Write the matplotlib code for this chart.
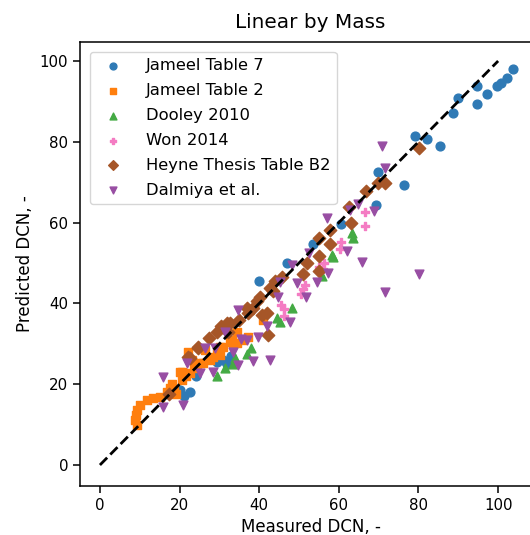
import matplotlib
matplotlib.use("Agg")
import matplotlib.pyplot as plt
import numpy as np

# ---- data (measured, predicted) ----
jameel7_x = [103.7, 102.2, 100.7, 99.8, 97.3, 94.6, 94.6, 89.8, 88.6, 79.2, 82.1, 85.3, 76.4, 69.9, 69.3,
             60.6, 53.4, 46.9, 40.0, 31.0, 33.0, 32.0, 29.5, 21.0, 22.5, 20.0, 24.0]
jameel7_y = [97.9, 95.9, 94.6, 93.8, 91.8, 93.8, 89.3, 90.8, 87.2, 81.4, 80.7, 79.0, 69.3, 72.4, 64.4,
             59.6, 54.8, 50.0, 45.6, 26.0, 27.0, 25.0, 25.5, 17.0, 18.0, 18.5, 22.0]

jameel2_x = [9.2, 8.8, 9.0, 9.2, 10.0, 11.7, 13.4, 15.1, 16.8, 17.6, 18.5, 20.5, 20.5, 21.5, 22.6, 23.5,
             24.3, 25.1, 26.0, 27.6, 28.5, 29.3, 30.2, 31.0, 32.7, 33.5, 34.3, 36.0, 37.3, 41.0, 22.0,
             23.0, 26.5, 19.0, 18.0, 30.2, 33.1, 34.3, 20.1]
jameel2_y = [9.9, 11.1, 12.3, 13.6, 14.9, 16.1, 16.6, 16.9, 18.1, 19.0, 18.5, 21.0, 23.1, 22.0, 22.7, 24.0,
             24.3, 25.2, 25.2, 26.0, 26.8, 27.6, 29.3, 29.3, 30.5, 30.1, 30.1, 31.0, 31.8, 35.9, 28.0,
             26.0, 28.5, 17.5, 20.0, 27.2, 30.9, 33.0, 23.1]

dooley_x = [63.2, 63.6, 58.2, 58.5, 55.7, 48.2, 45.2, 44.5, 38.0, 33.5, 29.3, 34.0, 31.5, 37.0]
dooley_y = [57.4, 56.2, 52.0, 51.5, 46.8, 38.8, 35.5, 36.5, 29.0, 25.0, 22.0, 26.5, 24.0, 27.5]

won_x = [66.5, 66.5, 60.6, 60.3, 56.3, 56.0, 51.5, 51.0, 50.5, 46.2, 46.3, 45.5, 55.0]
won_y = [62.7, 59.2, 55.2, 53.5, 50.0, 48.5, 44.5, 43.5, 42.3, 38.5, 37.0, 39.5, 49.0]

heyne_x = [80.2, 71.6, 69.8, 66.8, 62.6, 63.1, 57.8, 57.8, 54.9, 55.0, 54.9, 51.1, 52.0, 45.6, 42.7,
           40.2, 39.5, 38.5, 41.9, 40.6, 42.3, 37.3, 36.9, 32.7, 31.8, 32.2, 29.3, 24.7, 24.7, 22.6,
           22.2, 17.4, 44.0, 43.5, 35.0, 27.5, 30.5]
heyne_y = [78.5, 69.7, 69.7, 67.7, 63.9, 60.0, 58.2, 54.6, 56.2, 51.8, 48.1, 47.2, 50.0, 46.6, 43.9,
           41.7, 40.5, 38.8, 37.6, 37.1, 32.2, 37.6, 38.8, 35.1, 35.1, 33.0, 33.0, 29.0, 29.3, 26.4,
           26.8, 17.5, 45.5, 43.0, 36.0, 31.5, 34.5]

dalmiya_x = [70.8, 71.6, 64.7, 68.9, 62.8, 57.1, 62.0, 65.7, 80.2, 71.6, 52.5, 57.4, 54.4, 51.7, 48.2,
             49.4, 45.2, 44.8, 34.6, 41.9, 47.7, 39.8, 35.4, 31.4, 33.5, 26.4, 42.7, 38.5, 34.7, 28.5,
             25.1, 21.8, 15.9, 15.9, 20.9, 37.0, 29.0]
dalmiya_y = [79.0, 73.4, 64.5, 62.9, 63.1, 61.2, 53.0, 50.2, 47.2, 42.7, 52.4, 47.4, 45.4, 41.5, 49.5,
             45.0, 45.4, 41.5, 38.4, 34.5, 35.5, 31.6, 31.1, 33.0, 28.0, 28.9, 26.0, 25.8, 24.8, 23.1,
             22.7, 25.2, 21.9, 14.4, 14.9, 31.0, 29.0]

series = [
    ("Jameel Table 7", jameel7_x, jameel7_y, "o", "#2f7ab5"),
    ("Jameel Table 2", jameel2_x, jameel2_y, "s", "#ff7f0e"),
    ("Dooley 2010", dooley_x, dooley_y, "^", "#44aa44"),
    ("Won 2014", won_x, won_y, "P", "#f47cc3"),
    ("Heyne Thesis Table B2", heyne_x, heyne_y, "D", "#a65628"),
    ("Dalmiya et al.", dalmiya_x, dalmiya_y, "v", "#984ea3"),
]

line_x = [0, 100]
line_y = [0, 100]

fig = plt.figure(figsize=(5.30, 5.35), dpi=100)
ax = fig.add_axes([0.151, 0.0916, 0.87, 0.8299])

for name, xs, ys, m, c in series:
    ax.scatter(xs, ys, marker=m, color=c, s=40, label=name, zorder=2)

ax.plot(line_x, line_y, "k--", lw=2, zorder=3)

ax.set_xlim(-5.0, 110.8)
ax.set_ylim(-5.2, 104.7)
ax.set_xticks([0, 20, 40, 60, 80, 100])
ax.set_yticks([0, 20, 40, 60, 80, 100])
ax.tick_params(labelsize=10.8, length=5, width=1.1)
for sp in ax.spines.values():
    sp.set_linewidth(1.1)

ax.set_xlabel("Measured DCN, -", fontsize=12)
ax.set_ylabel("Predicted DCN, -", fontsize=12)
ax.set_title("Linear by Mass", fontsize=14.4, pad=10)
ax.legend(loc="upper left", fontsize=11.8, labelspacing=0.6, markerscale=0.78,
          handletextpad=1.0, borderaxespad=0.6)

fig.savefig("out.png", dpi=100)
